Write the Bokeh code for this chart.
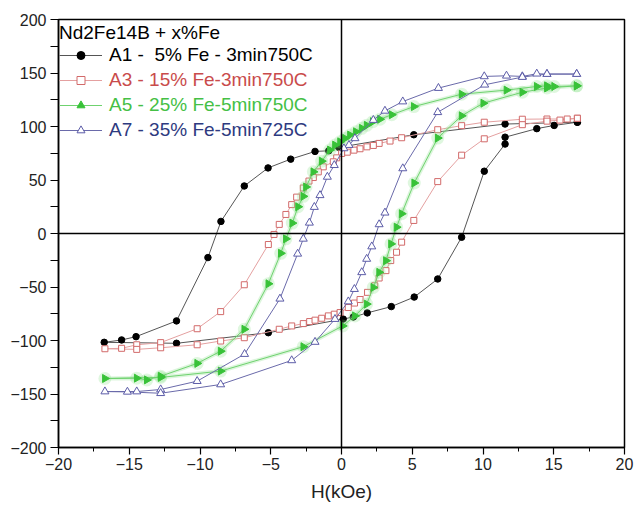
import math
from bokeh.plotting import figure
from bokeh.models import Span, Legend, LegendItem, FixedTicker
from bokeh.embed import file_html
from bokeh.resources import INLINE

# ---------------- data (H in kOe, M) ----------------
legend_title = "Nd2Fe14B + x%Fe"
series_labels = ["A1 -  5% Fe - 3min750C", "A3 - 15% Fe-3min750C",
                 "A5 - 25% Fe-5min750C", "A7 - 35% Fe-5min725C"]

x_ticks = [-20, -15, -10, -5, 0, 5, 10, 15, 20]
x_minor = [-17.5, -12.5, -7.5, -2.5, 2.5, 7.5, 12.5, 17.5]
y_ticks = [-200, -150, -100, -50, 0, 50, 100, 150, 200]
y_minor = [-175, -125, -75, -25, 25, 75, 125, 175]

a1_h = [16.67, 11.56, 5.11, -0.19, -0.90, -1.87, -3.59, -5.19, -6.87, -8.52, -9.44,
        -11.66, -14.52, -15.54, -16.77,
        -11.66, -5.17, 0.12, 0.84, 1.82, 3.52, 5.14, 6.80, 8.49, 10.09, 11.56, 11.56,
        13.80, 15.03, 16.67]
a1_m = [104, 102.3, 92.3, 80.5, 77.3, 76.7, 69.5, 61.3, 44.4, 11.3, -22.5,
        -81.7, -96.4, -99.5, -101.7,
        -102.6, -92.7, -80, -78, -74.2, -68.3, -59.4, -42.5, -3.5, 58.2, 83.6, 90,
        98, 101, 104]

a3_h = [16.67, 15.95, 14.52, 12.78, 10.09, 8.49, 6.80, 4.25, 3.43, 2.66, 2.25, 1.80,
        1.31, 0.88, 0.41, 0.01, -0.34, -0.58, -1.29, -1.64, -1.99, -2.30, -2.70,
        -3.17, -3.52, -3.93, -4.40, -4.77, -5.17, -6.87, -8.54, -10.20, -12.78,
        -14.47, -15.54, -16.72,
        -14.47, -12.78, -10.20, -8.54, -6.87, -4.40, -3.52, -2.70, -2.25, -1.87,
        -1.40, -0.93, -0.51, -0.10, 0.48, 0.92, 1.31, 1.84, 2.35, 2.66, 3.14, 3.48,
        3.89, 4.25, 5.11, 6.80, 8.49, 10.09, 12.78, 14.52, 15.44, 16.67]
a3_m = [107.7, 107, 107, 106.8, 104, 100.8, 97, 89.5, 86.4, 84.2, 82.3, 81,
        79.2, 77.9, 76, 74.8, 70.7, 67, 62.3, 57.6, 52.3, 49, 42.5,
        34, 27, 17.8, 8.5, -0.9, -10.3, -47.9, -73, -89, -102,
        -104, -107.3, -107.7,
        -108.3, -106.8, -104, -100.5, -97.4, -89.5, -86.4, -84.2, -82.3, -81,
        -79.2, -77, -75.4, -73.9, -69.2, -65, -61.7, -55, -48.8, -41.6, -34.7, -25.3,
        -17.5, -8.1, 12.2, 48.5, 73.2, 88.5, 101.7, 105, 106, 107.7]

a5_h = [16.62, 15.03, 14.52, 13.80, 11.66, 8.49, 5.11, 3.55, 2.72, 2.21, 1.78, 1.43,
        1.02, 0.60, 0.25, -0.10, -0.46, -0.82, -1.40, -1.99, -2.51, -2.70, -3.07,
        -3.48, -3.93, -4.29, -5.17, -6.87, -8.54, -10.20, -12.78, -13.76, -14.47,
        -16.72,
        -12.78, -8.54, -2.70, 0.08, 0.95, 1.78, 2.25, 2.66, 3.14, 3.50, 3.89, 4.25,
        5.14, 6.80, 8.49, 10.02, 12.78, 14.52, 16.62]
a5_m = [138, 137.4, 138, 137.4, 134, 130.2, 118.6, 111, 106.8, 104.5, 101.1, 98.3,
        95.1, 92, 88.9, 85.7, 82.6, 78, 67.6, 57.6, 43.5, 34.7, 25,
        9.7, -5, -18.5, -47, -89.5, -110, -121.4, -133.4, -136.8, -135.2,
        -135.5,
        -134.5, -128.6, -105.8, -86.4, -77, -66, -50.4, -36.3, -25.4, -9.7, 5.9, 18.5,
        47.2, 89.2, 110, 121.8, 132, 136, 138]

a7_h = [16.62, 14.52, 13.80, 12.78, 11.66, 10.09, 6.85, 4.33, 3.07, 2.25, 0.95, 0.53,
        0.17, -0.51, -1.00, -1.52, -1.92, -2.27, -2.70, -3.10, -4.35, -6.85, -10.20,
        -12.78, -14.47, -16.72,
        -15.13, -12.78, -8.54, -3.52, -1.87, -0.46, 0.48, 0.91, 1.43, 1.78, 2.14,
        2.66, 3.07, 4.33, 6.80, 10.12, 12.78, 14.52, 16.62]
a7_m = [149, 149, 149.3, 146.8, 147.4, 146.8, 135.9, 123.3, 114.6, 106, 88.9, 82.6,
        79.5, 63.8, 52.9, 35.7, 24.7, 10, -5, -19, -61, -112.7, -138,
        -145.8, -147.7, -147.7,
        -148, -149.3, -141.1, -118.6, -101.4, -80, -63.6, -52, -36.3, -23.8, -12.2,
        8.5, 19.4, 60.8, 113.3, 139, 146.2, 149, 149]

# ---------------- figure ----------------
FONT = "Liberation Sans"
p = figure(width=635, height=510, x_range=(-20, 20), y_range=(-200, 200),
           output_backend="svg", toolbar_location=None,
           min_border_left=58, min_border_right=11, min_border_top=19,
           min_border_bottom=63)
p.xgrid.visible = False
p.ygrid.visible = False
p.outline_line_color = "black"
p.outline_line_width = 1.5
p.outline_line_alpha = 1.0
p.background_fill_color = "white"
p.border_fill_color = "white"

for ax, tk, mn in ((p.xaxis, x_ticks, x_minor), (p.yaxis, y_ticks, y_minor)):
    ax.ticker = FixedTicker(ticks=tk, minor_ticks=mn)
    ax.axis_line_color = "black"
    ax.axis_line_width = 1.5
    ax.major_tick_line_color = "black"
    ax.minor_tick_line_color = "black"
    ax.major_tick_line_width = 1.2
    ax.minor_tick_line_width = 1.0
    ax.major_tick_in = 0
    ax.minor_tick_in = 0
    ax.major_label_text_font = FONT
    ax.major_label_text_font_size = "16px"
    ax.major_label_text_color = "#222222"

p.xaxis.major_tick_out = 7
p.xaxis.minor_tick_out = 4
p.yaxis.major_tick_out = 8
p.yaxis.minor_tick_out = 8
p.xaxis.major_label_standoff = 3
p.yaxis.major_label_standoff = 4
p.xaxis.axis_label = "H(kOe)"
p.xaxis.axis_label_text_font = FONT
p.xaxis.axis_label_text_font_size = "19px"
p.xaxis.axis_label_text_font_style = "normal"
p.xaxis.axis_label_text_color = "#222222"
p.xaxis.axis_label_standoff = 8

p.add_layout(Span(location=0, dimension="height", line_color="black", line_width=1.5))
p.add_layout(Span(location=0, dimension="width", line_color="black", line_width=1.5))

# A1 black circles
l1 = p.line(a1_h, a1_m, line_color="#555555", line_width=1)
s1 = p.scatter(a1_h, a1_m, marker="circle", size=6.5, fill_color="black", line_color="black")

# A3 red open squares
l3 = p.line(a3_h, a3_m, line_color="#e4a0a0", line_width=1)
s3 = p.scatter(a3_h, a3_m, marker="square", size=6, fill_color="white",
               line_color="#d26a6a", line_width=1)

# A5 green right-pointing triangles (with soft glow)
p.line(a5_h, a5_m, line_color="#9be39b", line_width=4, line_alpha=0.35)
p.scatter(a5_h, a5_m, marker="circle", size=13, fill_color="#7ee07e",
          line_color=None, fill_alpha=0.25)
l5 = p.line(a5_h, a5_m, line_color="#6fd26f", line_width=1)
s5 = p.scatter(a5_h, a5_m, marker="triangle", angle=-math.pi / 2, size=8,
               fill_color="#38c238", line_color="#38c238")

# A7 blue open triangles
l7 = p.line(a7_h, a7_m, line_color="#6a6aaa", line_width=1)
s7 = p.scatter(a7_h, a7_m, marker="triangle", size=8, fill_color="white",
               line_color="#5c5ca8", line_width=1)

# ---------------- legends (one per entry, coloured labels) ----------------
frame_top = 19
frame_h = 510 - 19 - 63
label_colors = ["black", "#c94b4b", "#45c045", "#2e3a80"]
rends = [[l1, s1], [l3, s3], [l5, s5], [l7, s7]]
row_centers = [54, 79, 104, 129]
for i in range(4):
    bottom = row_centers[i] + 12
    leg = Legend(items=[LegendItem(label=series_labels[i], renderers=rends[i])],
                 location=(1, frame_h - (bottom - frame_top)),
                 border_line_color=None, background_fill_alpha=0,
                 padding=0, margin=0, spacing=0,
                 glyph_width=43, glyph_height=20, label_height=20,
                 label_standoff=7,
                 label_text_font=FONT, label_text_font_size="19px",
                 label_text_color=label_colors[i])
    if i == 0:
        leg.title = legend_title
        leg.title_text_font = FONT
        leg.title_text_font_size = "19px"
        leg.title_text_font_style = "normal"
        leg.title_text_color = "black"
        leg.title_standoff = 0
    p.add_layout(leg)

open("out.html", "w").write(file_html(p, INLINE))
